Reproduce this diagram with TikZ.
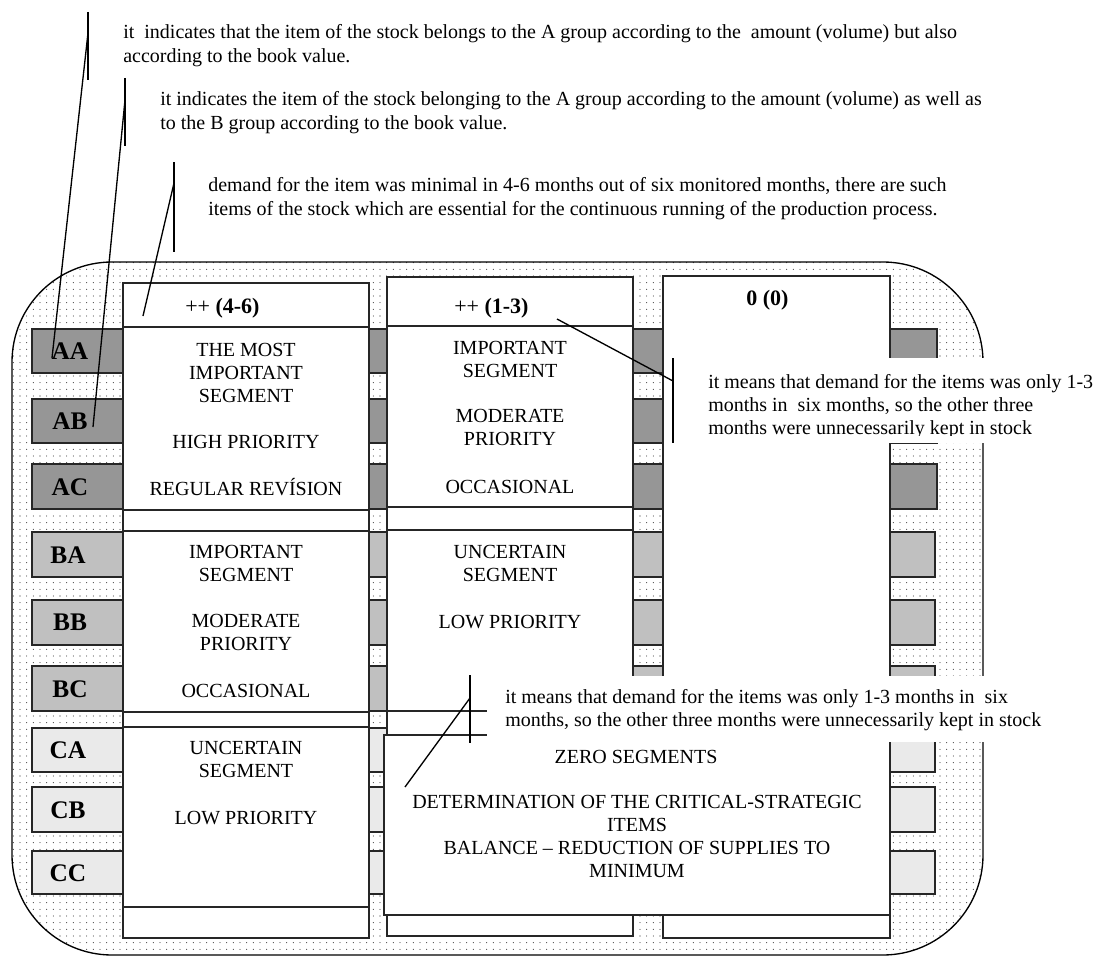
\documentclass[tikz,border=0pt]{standalone}
\usepackage{fontspec}
\setmainfont{Liberation Serif}
\usetikzlibrary{patterns.meta}
\definecolor{rowA}{RGB}{150,150,150}
\definecolor{rowB}{RGB}{192,192,192}
\definecolor{rowC}{RGB}{234,234,234}
\definecolor{edge}{RGB}{38,38,38}
\begin{document}
\begin{tikzpicture}[x=0.75pt,y=-0.75pt,
  box/.style={draw=edge,line width=1.4pt,fill=white},
  barA/.style={draw=edge,line width=1.4pt,fill=rowA},
  barB/.style={draw=edge,line width=1.4pt,fill=rowB},
  barC/.style={draw=edge,line width=1.4pt,fill=rowC},
  lbl/.style={font=\fontsize{19}{22}\selectfont\bfseries,inner sep=0pt},
  body/.style={font=\fontsize{15}{17.25}\selectfont,align=center,inner sep=0pt},
  hdr/.style={font=\fontsize{16.5}{19}\selectfont,inner sep=0pt,anchor=base west},
  note/.style={font=\fontsize{15}{18}\selectfont,inner sep=0pt,anchor=base west},
  lead/.style={draw=black,line width=1pt},
  mask/.style={fill=white,draw=none}]
\useasboundingbox (0,0) rectangle (1097,956);
% outer dotted region
\fill[white] (12,262) rectangle (983,955);
\path[pattern={Dots[distance=5pt,radius=0.4pt]},pattern color=black!85,rounded corners=75pt] (12,262) rectangle (983,955);
\draw[black,line width=1pt,rounded corners=75pt] (12,262) rectangle (983,955);
% row bars
\draw[barA] (32,329) rectangle (937,373);
\draw[barA] (32,399) rectangle (937,443);
\draw[barA] (32,464) rectangle (937,509);
\draw[barB] (32,532) rectangle (935,577);
\draw[barB] (32,600) rectangle (935,645);
\draw[barB] (32,666) rectangle (935,711);
\draw[barC] (32,728) rectangle (935,772);
\draw[barC] (32,787) rectangle (935,832);
\draw[barC] (32,851) rectangle (935,894);
% columns
\draw[box] (123,283) rectangle (369,938);
\draw[box] (123,327) rectangle (369,510);
\draw[box] (123,531) rectangle (369,712);
\draw[box] (123,727) rectangle (369,907);
\draw[box] (387,277) rectangle (633,936);
\draw[box] (387,326) rectangle (633,507);
\draw[box] (387,530) rectangle (633,711);
\draw[box] (663,276) rectangle (890,938);
\draw[box] (384,735) rectangle (890,915);
% callout masks
\fill[mask] (673,358) rectangle (1097,443);
\fill[mask] (487,676) rectangle (1062,742);
% leader coordinates
\coordinate (k1t) at (88,12);   \coordinate (k1b) at (88,80);   \coordinate (k1m) at (88,33);   \coordinate (k1e) at (52,358);
\coordinate (k2t) at (125,78);  \coordinate (k2b) at (125,146); \coordinate (k2m) at (125,100); \coordinate (k2e) at (93,427);
\coordinate (k3t) at (174,162); \coordinate (k3b) at (174,252); \coordinate (k3m) at (174,183); \coordinate (k3e) at (143,316);
\coordinate (k4t) at (673,358); \coordinate (k4b) at (673,443); \coordinate (k4m) at (673,381); \coordinate (k4e) at (557,319);
\coordinate (k5t) at (470,675); \coordinate (k5b) at (470,743); \coordinate (k5m) at (470,698); \coordinate (k5e) at (405,787);
\draw[lead] (k1t) -- (k1b); \draw[lead] (k1m) -- (k1e);
\draw[lead] (k2t) -- (k2b); \draw[lead] (k2m) -- (k2e);
\draw[lead] (k3t) -- (k3b); \draw[lead] (k3m) -- (k3e);
\draw[lead] (k4t) -- (k4b); \draw[lead] (k4m) -- (k4e);
\draw[lead] (k5t) -- (k5b); \draw[lead] (k5m) -- (k5e);
% row labels
\node[lbl] (lAA) at (70,351) {AA};
\node[lbl] (lAB) at (70,421) {AB};
\node[lbl] (lAC) at (70,487) {AC};
\node[lbl] (lBA) at (68,555) {BA};
\node[lbl] (lBB) at (70,622) {BB};
\node[lbl] (lBC) at (70,689) {BC};
\node[lbl] (lCA) at (68,750) {CA};
\node[lbl] (lCB) at (68,810) {CB};
\node[lbl] (lCC) at (68,873) {CC};
% headers
\node[hdr] (h1) at (185,313) {++ \textbf{(4-6)}};
\node[hdr] (h2) at (454,313) {++ \textbf{(1-3)}};
\node[hdr] (h3) at (746,305) {\textbf{0 (0)}};
% column 1 texts
\node[body] (c1a1) at (246,372.5) {THE MOST\\IMPORTANT\\SEGMENT};
\node[body,anchor=base] (c1a2) at (246,448) {HIGH PRIORITY};
\node[body,anchor=base] (c1a3) at (246,495) {REGULAR REVÍSION};
\node[body] (c1b1) at (246,563) {IMPORTANT\\SEGMENT};
\node[body] (c1b2) at (246,632.5) {MODERATE\\PRIORITY};
\node[body,anchor=base] (c1b3) at (246,697) {OCCASIONAL};
\node[body] (c1c1) at (246,759) {UNCERTAIN\\SEGMENT};
\node[body,anchor=base] (c1c2) at (246,824) {LOW PRIORITY};
% column 2 texts
\node[body] (c2a1) at (510,359.5) {IMPORTANT\\SEGMENT};
\node[body] (c2a2) at (510,427.5) {MODERATE\\PRIORITY};
\node[body,anchor=base] (c2a3) at (510,493) {OCCASIONAL};
\node[body] (c2b1) at (510,563) {UNCERTAIN\\SEGMENT};
\node[body,anchor=base] (c2b2) at (510,628) {LOW PRIORITY};
% zero box texts
\node[body,anchor=base] (z1) at (636,763) {ZERO SEGMENTS};
\node[body] (z2) at (637,836.5) {DETERMINATION OF THE CRITICAL-STRATEGIC\\ITEMS\\BALANCE – REDUCTION OF SUPPLIES TO\\MINIMUM};
% top notes
\node[note] (n1a) at (123,39) {it\ \ indicates that the item of the stock belongs to the A group according to the\ \ amount (volume) but also};
\node[note] (n1b) at (123,63) {according to the book value.};
\node[note] (n2a) at (160,106) {it indicates the item of the stock belonging to the A group according to the amount (volume) as well as};
\node[note] (n2b) at (160,130) {to the B group according to the book value.};
\node[note] (n3a) at (208,191) {demand for the item was minimal in 4-6 months out of six monitored months, there are such};
\node[note] (n3b) at (208,215) {items of the stock which are essential for the continuous running of the production process.};
% right callout
\begin{scope}
\clip (673,350) rectangle (1097,435);
\node[note] (n4a) at (708,388) {it means that demand for the items was only 1-3};
\node[note] (n4b) at (708,411) {months in\ \ six months, so the other three};
\node[note] (n4c) at (708,434) {months were unnecessarily kept in stock};
\end{scope}
% bottom callout
\node[note] (n5a) at (505,703) {it means that demand for the items was only 1-3 months in\ \ six};
\node[note] (n5b) at (505,726) {months, so the other three months were unnecessarily kept in stock};
\end{tikzpicture}
\end{document}
